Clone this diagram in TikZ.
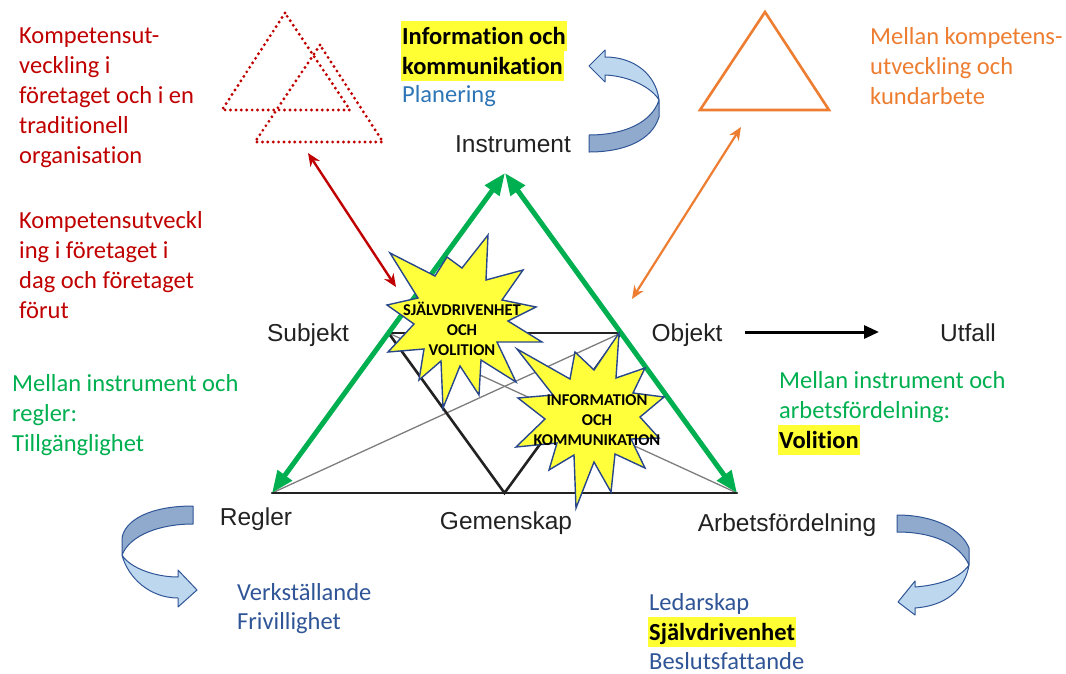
\documentclass[tikz,border=0pt]{standalone}
\usepackage{fontspec}
\setmainfont{Carlito}[Ligatures=NoCommon]
\newfontfamily\arialf{Liberation Sans}
\usetikzlibrary{arrows.meta,calc}

\definecolor{kred}{RGB}{192,0,0}
\definecolor{korange}{RGB}{237,125,49}
\definecolor{kgreen}{RGB}{0,176,80}
\definecolor{kblue}{RGB}{47,85,151}
\definecolor{kbluelight}{RGB}{46,117,182}
\definecolor{hl}{RGB}{255,255,51}
\definecolor{burstfill}{RGB}{255,255,60}
\definecolor{burstline}{RGB}{40,70,140}
\definecolor{ribbonlight}{RGB}{189,215,238}
\definecolor{ribbondark}{RGB}{143,170,204}
\definecolor{labelgray}{RGB}{34,34,34}
\definecolor{thingray}{RGB}{125,125,125}

\begin{document}
\begin{tikzpicture}[x=1pt,y=-1pt,
  txt/.style={anchor=base west, inner sep=0pt, font=\fontsize{24.5}{30}\selectfont},
  redtxt/.style={txt, text=kred},
  orangetxt/.style={txt, text=korange},
  greentxt/.style={txt, text=kgreen},
  bluetxt/.style={txt, text=kblue},
  lightbluetxt/.style={txt, text=kbluelight},
  hltxt/.style={txt, font=\bfseries\fontsize{24.5}{30}\selectfont, fill=hl,
    text height=23pt, text depth=7pt, inner xsep=1pt},
  lbl/.style={anchor=base, inner sep=0pt, text=labelgray,
    font=\arialf\fontsize{24.5}{30}\selectfont},
  burst/.style={fill=burstfill, draw=burstline, line width=1.4pt, line join=miter},
  bursttxt/.style={align=center, inner sep=0pt,
    font=\bfseries\fontsize{16.5}{20}\selectfont},
  blackline/.style={draw=labelgray, line width=2.6pt, line cap=round},
  grayline/.style={draw=thingray, line width=1.3pt},
  greenarrow/.style={draw=kgreen, line width=5pt,
    {Triangle[length=22pt,width=17pt]}-{Triangle[length=22pt,width=17pt]}},
  dotted tri/.style={draw=kred, line width=3.2pt, dash pattern=on 0pt off 5.4pt,
    line cap=round, line join=round},
  ribbon/.style={draw=kblue, line width=1pt, line join=round},
]
\useasboundingbox (0,0) rectangle (1066,673);

% ---------- activity system triangle ----------
\coordinate (I) at (505,173);
\coordinate (R) at (272,493);
\coordinate (A) at (737,493);
\coordinate (S) at ($(I)!0.5!(R)$);
\coordinate (O) at ($(I)!0.5!(A)$);
\coordinate (G) at ($(R)!0.5!(A)$);

\draw[grayline] (R) -- (O);
\draw[grayline] (S) -- (A);
\draw[blackline] (S) -- (O);
\draw[blackline] (S) -- (G) -- (O);
\draw[blackline] (R) -- (A);
\draw[greenarrow] (R) -- (I);
\draw[greenarrow] (A) -- (I);

% object to outcome
\coordinate (objout) at (745,332);
\coordinate (outin) at (879,332);
\draw[draw=black, line width=3pt, -{Triangle[length=15pt,width=13pt]}] (objout) -- (outin);

% ---------- small triangles at the top ----------
\draw[dotted tri] (285,13) -- (222,110) -- (350,110) -- cycle;
\draw[dotted tri] (320,45) -- (255,142) -- (383,142) -- cycle;
\draw[draw=korange, line width=2.6pt, line join=miter] (765,12) -- (700,110) -- (829,110) -- cycle;

\coordinate (redtop) at (308,153);
\coordinate (redbot) at (396,287);
\draw[draw=kred, line width=2.4pt, {Stealth[length=13pt,width=11pt]}-{Stealth[length=13pt,width=11pt]}] (redtop) -- (redbot);
\coordinate (ortop) at (741,127);
\coordinate (orbot) at (632,299);
\draw[draw=korange, line width=2.2pt, {Stealth[length=13pt,width=11pt]}-{Stealth[length=13pt,width=11pt]}] (ortop) -- (orbot);

% ---------- curved ribbon arrows ----------
% at Instrument
\path[ribbon, fill=ribbondark] (589,135) .. controls (625,135) and (652,122) .. (659,100)
  -- (659,117) .. controls (652,140) and (625,152) .. (589,152) -- cycle;
\path[ribbon, fill=ribbonlight] (659,100) .. controls (652,88) and (630,76) .. (605,75)
  -- (605,82) -- (589,66) -- (605,50) -- (605,57)
  .. controls (635,57) and (656,75) .. (659,100) -- cycle;
% at Regler
\path[ribbon, fill=ribbondark] (193,506) .. controls (150,506) and (125,520) .. (122,538)
  -- (122,555) .. controls (130,535) and (160,524) .. (193,524) -- cycle;
\path[ribbon, fill=ribbonlight] (122,555) .. controls (128,578) and (150,598) .. (178,598)
  -- (178,607) -- (197,590) -- (178,570) -- (178,577)
  .. controls (155,577) and (130,568) .. (122,555) -- cycle;
% at Arbetsfördelning
\path[ribbon, fill=ribbondark] (897,515) .. controls (935,515) and (962,530) .. (969,548)
  -- (969,565) .. controls (960,545) and (935,532) .. (897,532) -- cycle;
\path[ribbon, fill=ribbonlight] (969,565) .. controls (965,590) and (945,606) .. (915,608)
  -- (915,615) -- (898,602) -- (915,581) -- (915,587)
  .. controls (940,585) and (960,578) .. (969,565) -- cycle;

% ---------- explosions ----------
\path[burst] (387,305) -- (418,298) -- (390,253) -- (435,276) -- (447,257) -- (462,268)
  -- (488,235) -- (486,280) -- (523,270) -- (502,300) -- (536,307) -- (508,321)
  -- (542,342) -- (497,342) -- (516,382) -- (481,360) -- (479,395) -- (460,366)
  -- (443,408) -- (441,361) -- (419,380) -- (424,349) -- (388,352) -- (414,324) -- cycle;
\node[bursttxt] (burst1) at (462,329) {SJÄLVDRIVENHET\\OCH\\VOLITION};

\path[burst] (517,349) -- (570,379) -- (575,352) -- (594,370) -- (619,333) -- (616,378)
  -- (645,368) -- (633,393) -- (664,397) -- (640,417) -- (659,438) -- (631,439)
  -- (645,468) -- (615,454) -- (611,492) -- (594,462) -- (576,508) -- (574,455)
  -- (549,470) -- (557,443) -- (516,447) -- (545,419) -- (518,398) -- (553,395) -- cycle;
\node[bursttxt] (burst2) at (597,420) {INFORMATION\\OCH\\KOMMUNIKATION};

% ---------- labels of the activity system ----------
\node[lbl] (instrument) at (513,152) {Instrument};
\node[lbl] (subjekt) at (308,341) {Subjekt};
\node[lbl] (objekt) at (687,341) {Objekt};
\node[lbl] (utfall) at (968,341) {Utfall};
\node[lbl] (regler) at (256,525) {Regler};
\node[lbl] (gemenskap) at (506,529) {Gemenskap};
\node[lbl] (arbets) at (787,531) {Arbetsfördelning};

% ---------- commentary texts ----------
\node[redtxt] (r1a) at (19,43) {Kompetensut-};
\node[redtxt] (r1b) at (19,73) {veckling i};
\node[redtxt] (r1c) at (19,103) {företaget och i en};
\node[redtxt] (r1d) at (19,133) {traditionell};
\node[redtxt] (r1e) at (19,163) {organisation};

\node[redtxt] (r2a) at (19,228) {Kompetensutveckl};
\node[redtxt] (r2b) at (19,258) {ing i företaget i};
\node[redtxt] (r2c) at (19,288) {dag och företaget};
\node[redtxt] (r2d) at (19,318) {förut};

\node[greentxt] (gl1) at (12,391) {Mellan instrument och};
\node[greentxt] (gl2) at (12,421) {regler:};
\node[greentxt] (gl3) at (12,451) {Tillgänglighet};

\node[hltxt] (ik1) at (401,44) {Information och};
\node[hltxt] (ik2) at (401,74) {kommunikation};
\node[lightbluetxt] (plan) at (402,102) {Planering};

\node[orangetxt] (or1) at (870,44) {Mellan kompetens-};
\node[orangetxt] (or2) at (870,74) {utveckling och};
\node[orangetxt] (or3) at (870,104) {kundarbete};

\node[greentxt] (gr1) at (779,388) {Mellan instrument och};
\node[greentxt] (gr2) at (779,418) {arbetsfördelning:};
\node[hltxt] (gr3) at (778,448) {Volition};

\node[bluetxt] (bl1) at (237,600) {Verkställande};
\node[bluetxt] (bl2) at (237,629) {Frivillighet};

\node[bluetxt] (br1) at (649,610) {Ledarskap};
\node[hltxt] (br2) at (648,640) {Självdrivenhet};
\node[bluetxt] (br3) at (649,669) {Beslutsfattande};
\end{tikzpicture}
\end{document}
